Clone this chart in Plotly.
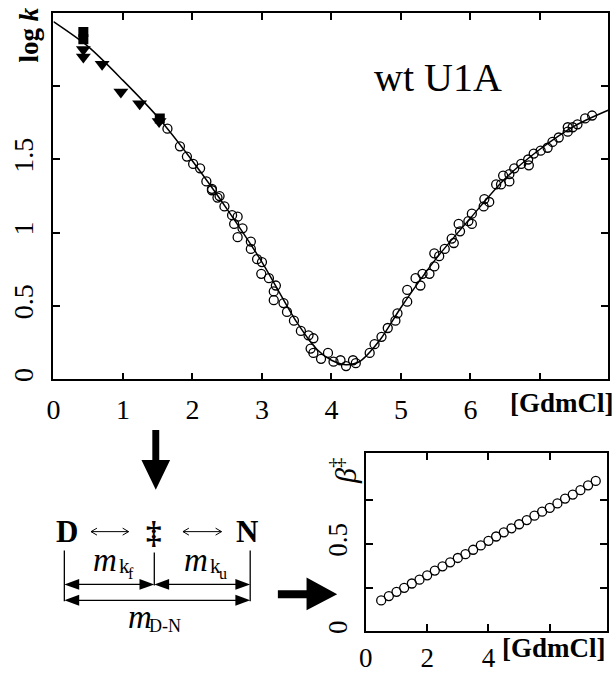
import plotly.graph_objects as go

# ---------------- data ----------------
# open circles: chevron data (denaturant [GdmCl], log k)
circ_x = [1.64, 1.82, 1.92, 2.01, 2.11, 2.20, 2.28, 2.39, 2.28, 2.36, 2.46, 2.57, 2.65, 2.60,
          2.72, 2.65, 2.84, 2.84, 2.93, 3.00, 2.99, 3.10, 3.20, 3.17, 3.17, 3.31, 3.36, 3.46,
          3.56, 3.67, 3.70, 3.74, 3.74, 3.85, 3.95, 4.03, 4.13, 4.21, 4.31, 4.35, 4.55, 4.62,
          4.72, 4.81, 4.92, 4.95, 5.09, 5.09, 5.21, 5.28, 5.31, 5.41, 5.48, 5.48, 5.55, 5.63,
          5.73, 5.76, 5.83, 5.85, 5.97, 6.02, 6.02, 6.19, 6.20, 6.27, 6.37, 6.44, 6.56, 6.47,
          6.56, 6.63, 6.73, 6.83, 6.84, 6.91, 7.01, 7.11, 7.18, 7.27, 7.40, 7.40, 7.47, 7.54,
          7.65, 7.75]
circ_y = [1.71, 1.59, 1.52, 1.47, 1.44, 1.35, 1.30, 1.25, 1.29, 1.24, 1.18, 1.12, 1.11, 1.06,
          1.03, 0.97, 0.94, 0.89, 0.82, 0.80, 0.72, 0.69, 0.64, 0.60, 0.54, 0.52, 0.46, 0.40,
          0.33, 0.30, 0.21, 0.28, 0.18, 0.14, 0.18, 0.12, 0.13, 0.09, 0.13, 0.11, 0.18, 0.24,
          0.29, 0.35, 0.40, 0.45, 0.53, 0.61, 0.69, 0.64, 0.72, 0.72, 0.77, 0.86, 0.84, 0.89,
          0.96, 0.93, 1.06, 1.01, 1.08, 1.13, 1.06, 1.18, 1.23, 1.21, 1.33, 1.33, 1.35, 1.39,
          1.40, 1.44, 1.47, 1.50, 1.46, 1.54, 1.56, 1.58, 1.62, 1.65, 1.69, 1.72, 1.72, 1.74,
          1.78, 1.80]
# filled down-triangles
tri_x = [0.43, 0.43, 0.70, 0.97, 1.24, 1.52]
tri_y = [2.25, 2.20, 2.15, 1.96, 1.88, 1.76]
# filled squares
sq_x = [0.43, 0.43, 1.53]
sq_y = [2.37, 2.32, 1.78]
# fitted chevron curve
fit_x = [0, 0.5, 1.0, 1.5, 2.0, 2.5, 3.0, 3.5, 3.8, 4.0, 4.2, 4.4, 4.7, 5.0, 5.5, 6.0, 6.5, 7.0, 7.5, 8.0]
fit_y = [2.44, 2.27, 2.04, 1.79, 1.49, 1.16, 0.80, 0.39, 0.20, 0.13, 0.10, 0.12, 0.27, 0.49,
         0.82, 1.10, 1.37, 1.57, 1.73, 1.84]
main_xticks = [0, 1, 2, 3, 4, 5, 6, 7]
main_xlabels = ["0", "1", "2", "3", "4", "5", "6", ""]
main_yticks = [0, 0.5, 1, 1.5, 2]
main_ylabels = ["0", "0.5", "1", "1.5", ""]

# beta-dagger panel
beta_x = [0.5, 0.75, 1.0, 1.25, 1.5, 1.75, 2.0, 2.25, 2.5, 2.75, 3.0, 3.25, 3.5, 3.75, 4.0,
          4.25, 4.5, 4.75, 5.0, 5.25, 5.5, 5.75, 6.0, 6.25, 6.5, 6.75, 7.0, 7.25, 7.5]
beta_y = [0.176, 0.201, 0.225, 0.248, 0.273, 0.295, 0.320, 0.347, 0.371, 0.394, 0.419, 0.441,
          0.466, 0.491, 0.517, 0.542, 0.566, 0.589, 0.612, 0.636, 0.661, 0.684, 0.706, 0.731,
          0.759, 0.782, 0.807, 0.835, 0.860]
beta_xticks = [0, 2, 4, 6]
beta_xlabels = ["0", "2", "4", ""]
beta_yticks = [0, 0.25, 0.5, 0.75]
beta_ylabels = ["0", "", "0.5", ""]

W, H = 614, 675
SERIF = "Liberation Serif, Times New Roman, serif"


def px(x):
    return x / W


def py(y):
    return 1 - y / H


fig = go.Figure()

fig.add_trace(go.Scatter(x=fit_x, y=fit_y, mode="lines", line=dict(color="black", width=1.5, shape="spline", smoothing=0.8),
                         xaxis="x", yaxis="y", hoverinfo="skip"))
fig.add_trace(go.Scatter(x=circ_x, y=circ_y, mode="markers",
                         marker=dict(symbol="circle-open", size=9, color="black", line=dict(width=1.3)),
                         xaxis="x", yaxis="y"))
fig.add_trace(go.Scatter(x=tri_x, y=tri_y, mode="markers",
                         marker=dict(symbol="triangle-down", size=13, color="black"),
                         xaxis="x", yaxis="y"))
fig.add_trace(go.Scatter(x=sq_x, y=sq_y, mode="markers",
                         marker=dict(symbol="square", size=10, color="black"),
                         xaxis="x", yaxis="y"))
fig.add_trace(go.Scatter(x=beta_x, y=beta_y, mode="markers",
                         marker=dict(symbol="circle-open", size=9, color="black", line=dict(width=1.3)),
                         xaxis="x2", yaxis="y2"))


def axis_common(size):
    return dict(showline=True, linecolor="black", linewidth=1.5, mirror="ticks", ticks="inside",
                ticklen=7, tickwidth=1.5, tickcolor="black", showgrid=False, zeroline=False,
                tickfont=dict(family=SERIF, size=size, color="black"))


fig.update_layout(
    width=W, height=H, margin=dict(l=0, r=0, t=0, b=0),
    paper_bgcolor="white", plot_bgcolor="white", showlegend=False,
    font=dict(family=SERIF, size=26, color="black"),
    xaxis=dict(domain=[px(47), px(608)], range=[0, 7.98], tickmode="array", tickvals=main_xticks,
               ticktext=main_xlabels, anchor="y", ticklabelstandoff=4, **axis_common(28)),
    yaxis=dict(domain=[py(381), py(13)], range=[0, 2.5], tickmode="array", tickvals=main_yticks,
               ticktext=main_ylabels, tickangle=-90, anchor="x", ticklabelstandoff=8, **axis_common(28)),
    xaxis2=dict(domain=[px(363), px(607)], range=[0, 7.87], tickmode="array", tickvals=beta_xticks,
                ticktext=beta_xlabels, anchor="y2", ticklabelstandoff=2, **axis_common(27)),
    yaxis2=dict(domain=[py(634), py(455)], range=[0, 1.02], tickmode="array", tickvals=beta_yticks,
                ticktext=beta_ylabels, tickangle=-90, anchor="x2", ticklabelstandoff=6, **axis_common(27)),
)

ann = []


def text(x, y, s, size=26, angle=0, xanchor="center", yanchor="middle"):
    ann.append(dict(x=px(x), y=py(y), xref="paper", yref="paper", text=s, showarrow=False,
                    textangle=angle, xanchor=xanchor, yanchor=yanchor,
                    font=dict(family=SERIF, size=size, color="black")))


text(22, 35, "<b>log <i>k</i></b>", size=27, angle=-90)
text(436, 78, "wt U1A", size=40)
text(561, 405, "<b>[GdmCl]</b>", size=27)
text(553, 651, "<b>[GdmCl]</b>", size=27)
text(340, 473, "<i>β</i><sup>‡</sup>", size=30, angle=-90)
# scheme
text(61, 534, "<b>D</b>", size=31)
text(149, 535, "<b>‡</b>", size=31)
text(243, 534, "<b>N</b>", size=31)
# m_kf
text(99, 563, "<i>m</i>", size=33)
text(119, 569, "k", size=21)
text(125.5, 576, "f", size=16)
# m_ku
text(191, 563, "<i>m</i>", size=33)
text(211, 569, "k", size=21)
text(218, 576, "u", size=16)
# m_D-N
text(135, 620, "<i>m</i>", size=33)
text(160, 629, "D-N", size=18)
fig.update_layout(annotations=ann)

shapes = []


def poly(points):
    d = "M " + " L ".join(f"{px(a):.5f},{py(b):.5f}" for a, b in points) + " Z"
    shapes.append(dict(type="path", path=d, xref="paper", yref="paper",
                       fillcolor="black", line=dict(color="black", width=0)))


def line(x0, y0, x1, y1, w=1.2):
    shapes.append(dict(type="line", x0=px(x0), y0=py(y0), x1=px(x1), y1=py(y1), xref="paper", yref="paper",
                       line=dict(color="black", width=w)))


# big down arrow
poly([(147, 432), (154, 432), (154, 462), (165, 462), (150.5, 492), (136, 462), (147, 462)])
# big right arrow
poly([(274, 593), (303, 593), (303, 580), (334, 597), (303, 613), (303, 601), (274, 601)])

# thin double arrows
for xa, xb in [(85, 123), (178, 217)]:
    yy = 534
    line(xa, yy, xb, yy, 1.0)
    line(xa, yy, xa + 6, yy - 3.5, 1.0)
    line(xa, yy, xa + 6, yy + 3.5, 1.0)
    line(xb, yy, xb - 6, yy - 3.5, 1.0)
    line(xb, yy, xb - 6, yy + 3.5, 1.0)

# vertical reference lines
line(58, 553, 58, 604, 1.3)
line(149, 555, 149, 588, 1.3)
line(246, 553, 246, 604, 1.3)


def dbl(xa, xb, yy):
    line(xa + 10, yy, xb - 10, yy, 1.3)
    poly([(xa, yy), (xa + 15, yy - 5.5), (xa + 15, yy + 5.5)])
    poly([(xb, yy), (xb - 15, yy - 5.5), (xb - 15, yy + 5.5)])


dbl(58, 149, 587)
dbl(149, 246, 587)
dbl(58, 246, 603)

fig.update_layout(shapes=shapes)
fig.write_html("out.html")
